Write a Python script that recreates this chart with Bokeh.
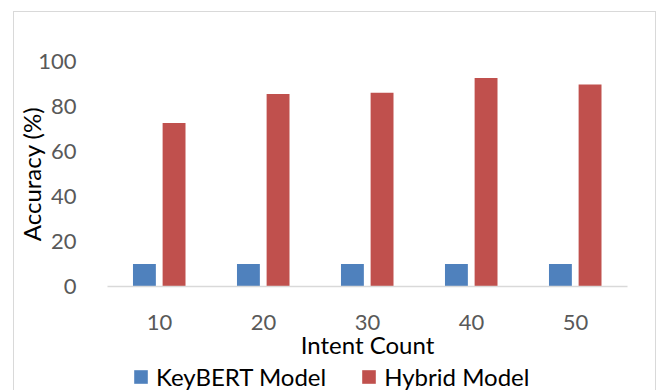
from bokeh.plotting import figure
from bokeh.layouts import column
from bokeh.models import ColumnDataSource, FactorRange, Legend, LegendItem
from bokeh.transform import dodge
from bokeh.embed import file_html
from bokeh.resources import INLINE

categories = ["10", "20", "30", "40", "50"]
keybert = [10, 10, 10, 10, 10]
hybrid = [72.7, 85.6, 86.1, 92.7, 89.8]
y_ticks = [0, 20, 40, 60, 80, 100]
series_names = ["KeyBERT Model", "Hybrid Model"]
series_fields = ["keybert", "hybrid"]
series_colors = ["#4f81bd", "#c0504d"]
series_offsets = [-0.145, 0.14]

FONT = "Lato"
FS = "24px"
TICK_FS = "22px"
src = ColumnDataSource(dict(cat=categories, keybert=keybert, hybrid=hybrid))
xr = FactorRange(*categories, range_padding=0)

p = figure(x_range=xr, y_range=(0, 100),
           width=641, height=350, output_backend="svg", toolbar_location=None,
           min_border_left=93, min_border_right=28, min_border_top=49, min_border_bottom=76)
p.outline_line_color = None
p.grid.visible = False

for f, c, o in zip(series_fields, series_colors, series_offsets):
    p.vbar(x=dodge("cat", o, range=xr), top=f, width=0.22, source=src,
           fill_color=c, line_color=None)

p.yaxis.ticker = y_ticks
p.yaxis.axis_line_color = None
p.yaxis.major_tick_line_color = None
p.yaxis.minor_tick_line_color = None
p.yaxis.major_label_standoff = 25
p.yaxis.axis_label = "Accuracy (%)"
p.yaxis.axis_label_standoff = -11
p.xaxis.axis_label = "Intent Count"
p.xaxis.axis_line_color = "#d9d9d9"
p.xaxis.axis_line_width = 1.5
p.xaxis.major_tick_line_color = None
p.xaxis.minor_tick_line_color = None
p.xaxis.major_label_standoff = 22
p.xaxis.axis_label_standoff = -3
for ax in (p.xaxis, p.yaxis):
    ax.major_label_text_font = FONT
    ax.major_label_text_font_size = TICK_FS
    ax.major_label_text_color = "#595959"
    ax.axis_label_text_font = FONT
    ax.axis_label_text_font_size = FS
    ax.axis_label_text_font_style = "normal"
    ax.axis_label_text_color = "#000000"

# legend strip below the chart (same bars, outside of this strip's visible range)
p2 = figure(width=641, height=29, output_backend="svg", toolbar_location=None,
            min_border=0, x_range=xr, y_range=(1000, 1001))
p2.axis.visible = False
p2.grid.visible = False
p2.outline_line_color = None
lr = [p2.vbar(x=dodge("cat", o, range=xr), top=f, width=0.22, source=src,
              fill_color=c, line_color=None)
      for f, c, o in zip(series_fields, series_colors, series_offsets)]
legend = Legend(items=[LegendItem(label=n, renderers=[r]) for n, r in zip(series_names, lr)],
                orientation="horizontal", location=(25, 0),
                label_text_font=FONT, label_text_font_size=FS, label_text_color="#000000",
                glyph_width=17, glyph_height=17, label_standoff=7, spacing=34,
                padding=0, margin=0, border_line_color=None, background_fill_alpha=0,
                label_height=20)
p2.add_layout(legend, "center")

layout = column(p, p2, spacing=0, margin=(11, 0, 0, 13),
                styles={"border-left": "1px solid #d9d9d9", "border-top": "1px solid #d9d9d9",
                        "border-right": "1px solid #d9d9d9"})

open("out.html", "w").write(file_html(layout, INLINE))
